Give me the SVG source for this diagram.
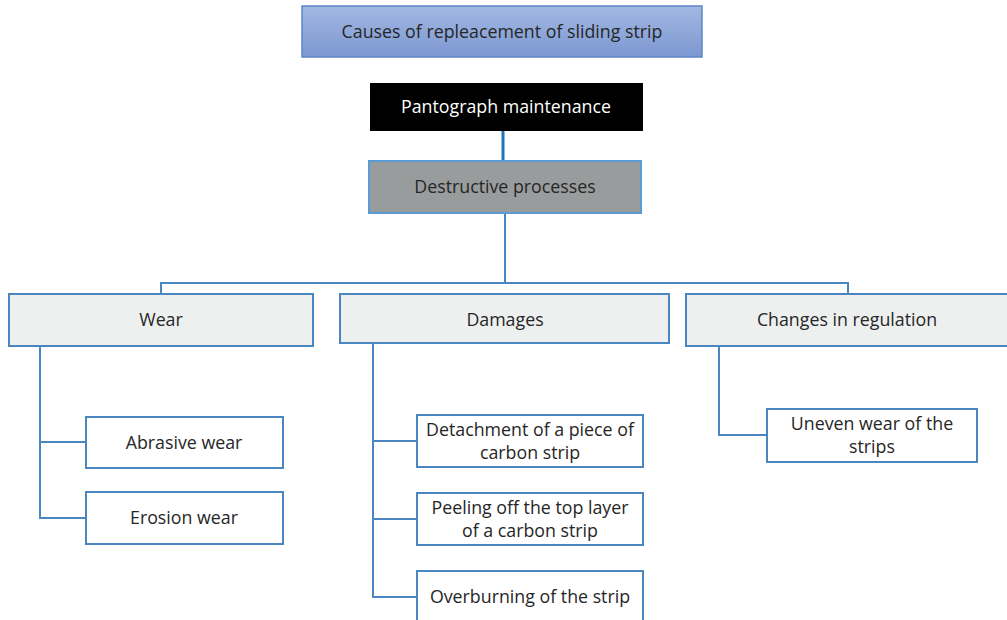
<svg xmlns="http://www.w3.org/2000/svg" width="1007" height="620" viewBox="0 0 1007 620">
<defs>
<linearGradient id="gTitle" x1="0" y1="0" x2="0" y2="1">
<stop offset="0" stop-color="#a3b8e2"/>
<stop offset="1" stop-color="#7c98d2"/>
</linearGradient>
</defs>
<style>
text{font-family:"Open Sans","Liberation Sans",sans-serif;font-size:17.8px;fill:#262626;text-anchor:middle}
.box{fill:#ffffff;stroke:#4a86c0;stroke-width:2}
.cat{fill:#eef0f0;stroke:#4a86c0;stroke-width:2}
.con{fill:none;stroke:#4a86c0;stroke-width:2}
</style>
<rect width="1007" height="620" fill="#ffffff"/>
<g id="connectors">
<line x1="503" y1="131" x2="503" y2="160" stroke="#1f74b8" stroke-width="3"/>
<path class="con" d="M505 213 V283 M161 294 V283 H848 V294"/>
<path class="con" d="M40 346 V518 H86 M40 442 H86"/>
<path class="con" d="M373 343 V597 H417 M373 441 H417 M373 519 H417"/>
<path class="con" d="M719 346 V435 H767"/>
</g>
<g id="title">
<rect x="302" y="6" width="400" height="51" fill="url(#gTitle)" stroke="#5b86c6" stroke-width="1.5"/>
<text x="502" y="38">Causes of repleacement of sliding strip</text>
</g>
<g id="pantograph">
<rect x="370" y="83" width="273" height="48" fill="#000000"/>
<text x="506" y="113" style="fill:#ffffff">Pantograph maintenance</text>
</g>
<g id="destructive">
<rect x="369" y="161" width="272" height="52" fill="#999c9c" stroke="#5b9bd5" stroke-width="2"/>
<text x="505" y="193">Destructive processes</text>
</g>
<g id="wear">
<rect class="cat" x="9" y="294" width="304" height="52"/>
<text x="161" y="326">Wear</text>
</g>
<g id="damages">
<rect class="cat" x="340" y="294" width="329" height="49"/>
<text x="505" y="326">Damages</text>
</g>
<g id="changes">
<rect class="cat" x="686" y="294" width="330" height="52"/>
<text x="847" y="326">Changes in regulation</text>
</g>
<g id="abrasive">
<rect class="box" x="86" y="417" width="197" height="51"/>
<text x="184" y="449">Abrasive wear</text>
</g>
<g id="erosion">
<rect class="box" x="86" y="492" width="197" height="52"/>
<text x="184" y="524">Erosion wear</text>
</g>
<g id="detachment">
<rect class="box" x="417" y="415" width="226" height="52"/>
<text x="530" y="436">Detachment of a piece of</text>
<text x="530" y="459">carbon strip</text>
</g>
<g id="peeling">
<rect class="box" x="417" y="493" width="226" height="52"/>
<text x="530" y="514">Peeling off the top layer</text>
<text x="530" y="537">of a carbon strip</text>
</g>
<g id="overburning">
<rect class="box" x="417" y="571" width="226" height="60"/>
<text x="530" y="603">Overburning of the strip</text>
</g>
<g id="uneven">
<rect class="box" x="767" y="409" width="210" height="53"/>
<text x="872" y="430">Uneven wear of the</text>
<text x="872" y="453">strips</text>
</g>
</svg>
